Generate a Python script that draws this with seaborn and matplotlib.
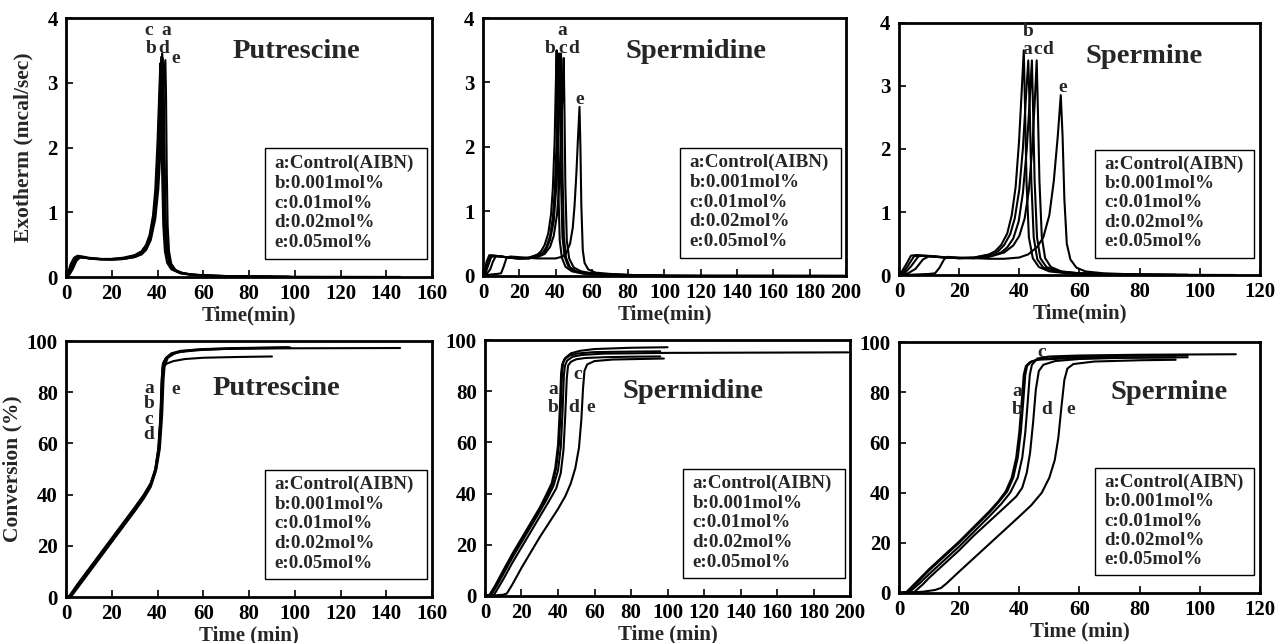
import matplotlib
matplotlib.use("Agg")
import matplotlib.pyplot as plt
import seaborn as sns
from matplotlib.patches import Rectangle

# ---------------- data ----------------
letters = ["a", "b", "c", "d", "e"]
legend_lines = ["a:Control(AIBN)", "b:0.001mol%", "c:0.01mol%", "d:0.02mol%", "e:0.05mol%"]
titles = ["Putrescine", "Spermidine", "Spermine"]
xmax_list = [160, 200, 120]
exo_yticks = [0, 1, 2, 3, 4]
conv_yticks = [0, 20, 40, 60, 80, 100]

# --- Putrescine exotherm ---
put_exo_a_t = [0, 1, 2.5, 4, 5.5, 7, 10, 15, 20, 25, 30, 33, 35, 37, 38.5, 39.5, 40.5, 41.3, 42.0, 42.4, 42.8, 43.3, 44, 45, 47, 50, 55, 65, 80, 98]
put_exo_a_y = [0, 0.05, 0.15, 0.26, 0.31, 0.31, 0.29, 0.28, 0.28, 0.29, 0.32, 0.37, 0.45, 0.62, 0.9, 1.25, 1.9, 2.8, 3.45, 3.0, 1.9, 0.9, 0.45, 0.25, 0.12, 0.07, 0.04, 0.02, 0.01, 0.005]
put_exo_b_t = [0, 1.5, 3, 4.5, 6, 8, 10, 15, 20, 25, 30, 33, 35, 36.5, 38, 39, 40, 40.7, 41.2, 41.6, 42.0, 42.5, 43.2, 44.2, 46, 50, 55, 65, 80, 97]
put_exo_b_y = [0, 0.05, 0.15, 0.27, 0.31, 0.3, 0.29, 0.28, 0.28, 0.3, 0.34, 0.4, 0.5, 0.65, 0.95, 1.35, 2.1, 2.8, 3.3, 2.7, 1.6, 0.8, 0.4, 0.22, 0.12, 0.06, 0.035, 0.02, 0.01, 0.005]
put_exo_c_t = [0, 1, 2, 3.5, 5, 7, 10, 15, 20, 25, 30, 33, 35, 37, 38.3, 39.3, 40.3, 41.0, 41.6, 42.0, 42.4, 43.0, 43.8, 45, 47, 50, 55, 65, 80, 98]
put_exo_c_y = [0, 0.08, 0.2, 0.3, 0.33, 0.32, 0.3, 0.28, 0.28, 0.29, 0.33, 0.39, 0.48, 0.66, 0.95, 1.35, 2.1, 2.9, 3.4, 2.9, 1.8, 0.8, 0.4, 0.22, 0.11, 0.06, 0.035, 0.02, 0.01, 0.005]
put_exo_d_t = [0, 1.5, 3, 4.5, 6, 8, 10, 15, 20, 25, 30, 33, 35, 37, 38.8, 39.8, 40.8, 41.6, 42.3, 42.7, 43.1, 43.6, 44.3, 45.5, 47.5, 50, 55, 65, 80, 90]
put_exo_d_y = [0, 0.04, 0.13, 0.25, 0.3, 0.3, 0.29, 0.27, 0.27, 0.28, 0.31, 0.36, 0.44, 0.6, 0.92, 1.3, 2.0, 2.8, 3.38, 2.9, 1.8, 0.85, 0.42, 0.23, 0.12, 0.07, 0.04, 0.02, 0.01, 0.005]
put_exo_e_t = [0, 1, 2.5, 4, 5.5, 7, 10, 15, 20, 25, 30, 33, 35, 37, 39, 40.3, 41.5, 42.5, 43.4, 43.7, 44.0, 44.4, 45.0, 46, 48, 52, 60, 75, 100, 146]
put_exo_e_y = [0, 0.06, 0.18, 0.28, 0.32, 0.31, 0.29, 0.28, 0.27, 0.28, 0.31, 0.35, 0.42, 0.57, 0.9, 1.35, 2.1, 2.9, 3.35, 2.8, 1.7, 0.8, 0.4, 0.2, 0.1, 0.05, 0.025, 0.012, 0.006, 0.003]

# --- Spermidine exotherm ---
spd_exo_a_t = [0, 1, 2.5, 4, 6, 10, 15, 20, 25, 30, 33, 35, 37, 38.5, 39.5, 40.5, 41.5, 42.0, 42.5, 43, 43.8, 45, 47, 50, 55, 65, 80, 100]
spd_exo_a_y = [0, 0.05, 0.2, 0.3, 0.31, 0.3, 0.28, 0.27, 0.28, 0.31, 0.36, 0.45, 0.62, 0.9, 1.3, 2.0, 3.0, 3.45, 2.7, 1.5, 0.6, 0.3, 0.15, 0.08, 0.04, 0.02, 0.01, 0.005]
spd_exo_b_t = [0, 1, 2, 3.5, 5, 10, 15, 20, 25, 30, 32, 34, 36, 37.5, 38.5, 39.5, 40.1, 40.6, 41.0, 41.5, 42.3, 43.5, 45.5, 49, 55, 65, 80, 96]
spd_exo_b_y = [0, 0.08, 0.22, 0.32, 0.32, 0.3, 0.28, 0.27, 0.28, 0.33, 0.38, 0.48, 0.66, 0.95, 1.35, 2.1, 2.9, 3.5, 2.6, 1.4, 0.55, 0.28, 0.14, 0.07, 0.035, 0.02, 0.01, 0.005]
spd_exo_c_t = [0, 1.5, 3, 4.5, 7, 10, 15, 20, 25, 30, 33, 35, 37, 39, 40.2, 41.3, 42.3, 43.0, 43.4, 43.9, 44.6, 45.8, 48, 52, 60, 80, 120, 199]
spd_exo_c_y = [0, 0.05, 0.17, 0.29, 0.31, 0.3, 0.28, 0.27, 0.27, 0.3, 0.34, 0.42, 0.56, 0.85, 1.3, 2.0, 2.9, 3.45, 2.7, 1.5, 0.6, 0.28, 0.13, 0.06, 0.03, 0.012, 0.006, 0.003]
spd_exo_d_t = [0, 2, 4, 5.5, 7, 10, 15, 20, 25, 30, 34, 37, 39, 40.8, 42, 43.1, 43.9, 44.5, 44.9, 45.4, 46.2, 47.5, 50, 54, 60, 70, 85, 96]
spd_exo_d_y = [0, 0.03, 0.1, 0.22, 0.3, 0.3, 0.28, 0.27, 0.27, 0.29, 0.34, 0.45, 0.62, 0.95, 1.4, 2.2, 2.9, 3.38, 2.6, 1.4, 0.55, 0.27, 0.13, 0.07, 0.04, 0.02, 0.01, 0.005]
spd_exo_e_t = [0, 4, 8, 10, 11.5, 13, 15, 20, 30, 40, 44, 46, 48, 49.5, 50.5, 51.5, 52.3, 53.2, 53.7, 54.2, 55, 56, 58, 62, 70, 85, 98]
spd_exo_e_y = [0, 0.02, 0.03, 0.04, 0.15, 0.28, 0.3, 0.29, 0.27, 0.27, 0.3, 0.36, 0.5, 0.75, 1.1, 1.6, 2.1, 2.62, 2.0, 1.1, 0.4, 0.2, 0.1, 0.05, 0.03, 0.01, 0.005]

# --- Spermine exotherm ---
spm_exo_a_t = [0, 1.5, 3, 5, 7, 10, 15, 20, 25, 30, 33, 35, 37, 38.5, 40, 41.2, 42.2, 43.0, 43.5, 44, 44.8, 46, 48, 52, 58, 70, 85, 96]
spm_exo_a_y = [0, 0.05, 0.15, 0.3, 0.31, 0.3, 0.28, 0.27, 0.28, 0.32, 0.38, 0.48, 0.65, 0.9, 1.35, 2.0, 2.8, 3.4, 2.6, 1.5, 0.6, 0.25, 0.12, 0.06, 0.03, 0.015, 0.008, 0.005]
spm_exo_b_t = [0, 1, 2.5, 4, 6, 10, 15, 20, 25, 30, 32, 34, 36, 37.5, 38.8, 39.9, 40.8, 41.5, 41.9, 42.4, 43.2, 44.5, 46.5, 50, 56, 65, 80, 92]
spm_exo_b_y = [0, 0.06, 0.18, 0.31, 0.32, 0.3, 0.28, 0.27, 0.28, 0.33, 0.38, 0.48, 0.66, 0.95, 1.4, 2.1, 2.9, 3.56, 2.7, 1.5, 0.6, 0.27, 0.13, 0.06, 0.03, 0.015, 0.008, 0.005]
spm_exo_c_t = [0, 2, 4, 6.5, 8.5, 12, 16, 20, 25, 30, 34, 36, 38, 39.8, 41.2, 42.5, 43.5, 44.2, 44.6, 45.1, 45.9, 47, 49, 53, 60, 75, 95, 112]
spm_exo_c_y = [0, 0.04, 0.14, 0.3, 0.31, 0.3, 0.28, 0.27, 0.27, 0.3, 0.36, 0.44, 0.58, 0.85, 1.3, 2.0, 2.8, 3.4, 2.6, 1.5, 0.6, 0.27, 0.13, 0.06, 0.03, 0.012, 0.006, 0.003]
spm_exo_d_t = [0, 3, 5.5, 8, 10, 13, 16, 20, 25, 30, 35, 38, 40, 41.8, 43.2, 44.3, 45.2, 45.8, 46.2, 46.7, 47.5, 48.6, 50.5, 54, 60, 70, 82, 96]
spm_exo_d_y = [0, 0.03, 0.1, 0.25, 0.3, 0.29, 0.28, 0.27, 0.27, 0.29, 0.36, 0.47, 0.62, 0.9, 1.35, 2.0, 2.8, 3.4, 2.6, 1.5, 0.6, 0.27, 0.13, 0.06, 0.03, 0.015, 0.008, 0.005]
spm_exo_e_t = [0, 5, 10, 12, 13.5, 15, 16, 20, 25, 30, 35, 40, 43, 46, 48, 50, 51.5, 52.8, 53.8, 54.4, 55, 55.8, 57, 59, 62, 68, 80, 92]
spm_exo_e_y = [0, 0.01, 0.02, 0.03, 0.12, 0.25, 0.29, 0.28, 0.27, 0.26, 0.26, 0.28, 0.33, 0.45, 0.6, 0.95, 1.5, 2.2, 2.85, 2.2, 1.2, 0.5, 0.25, 0.12, 0.06, 0.03, 0.01, 0.005]

# --- Putrescine conversion ---
put_conv_a_t = [0, 1.5, 5, 10, 15, 20, 25, 30, 34, 37, 39, 40.3, 41.2, 41.8, 42.3, 43.5, 46, 50, 60, 75, 98]
put_conv_a_y = [0, 0.5, 5, 11, 17, 23, 29, 35, 40, 44.5, 50, 58, 70, 85, 91, 93, 94.8, 95.8, 96.6, 97.1, 97.4]
put_conv_b_t = [0, 2, 5, 10, 15, 20, 25, 30, 34, 37, 39, 40.5, 41.4, 42, 42.5, 43.7, 46, 50, 60, 75, 97]
put_conv_b_y = [0, 0.5, 4.5, 10.5, 16.5, 22.5, 28.5, 34.5, 39.5, 44, 49.5, 58, 71, 86, 91.5, 93.5, 95.2, 96.2, 96.9, 97.3, 97.6]
put_conv_c_t = [0, 1.8, 5, 10, 15, 20, 25, 30, 34, 37, 39, 40.4, 41.3, 41.9, 42.4, 43.6, 46, 50, 60, 75, 98]
put_conv_c_y = [0, 0.5, 4.8, 10.8, 16.8, 22.8, 28.8, 34.8, 39.8, 44.3, 49.8, 58, 70.5, 85.5, 91.2, 93.2, 95.0, 96.0, 96.8, 97.2, 97.5]
put_conv_d_t = [0, 2.5, 5, 10, 15, 20, 25, 30, 34, 37, 39, 40.6, 41.5, 42.1, 42.6, 44, 47, 52, 60, 75, 90]
put_conv_d_y = [0, 0.5, 3.5, 9.5, 15.5, 21.5, 27.5, 33.5, 38.5, 43, 48.5, 57, 70, 84, 90, 91.2, 92.2, 93, 93.5, 93.8, 94]
put_conv_e_t = [0, 2, 5, 10, 15, 20, 25, 30, 34, 37, 39.5, 41, 42, 42.6, 43.1, 44.5, 48, 55, 70, 100, 146]
put_conv_e_y = [0, 0.5, 4.2, 10.2, 16.2, 22.2, 28.2, 34.2, 39.2, 43.5, 50, 58, 71, 85, 90.5, 93.5, 95.5, 96.5, 97, 97.2, 97.3]

# --- Spermidine conversion ---
spd_conv_a_t = [0, 3, 6, 10, 15, 20, 25, 30, 34, 37, 39, 40.5, 41.5, 42.2, 42.8, 44, 47, 52, 60, 80, 100]
spd_conv_a_y = [0, 0.5, 4, 9.5, 16, 22, 28, 34, 39, 44, 50, 59, 73, 87, 91, 93, 94.8, 95.8, 96.5, 97, 97.2]
spd_conv_b_t = [0, 2.5, 5.5, 10, 15, 20, 25, 30, 33.5, 36.5, 38.5, 40, 41, 41.7, 42.3, 43.5, 46.5, 51, 60, 80, 96]
spd_conv_b_y = [0, 0.5, 4, 10, 16.5, 22.5, 28.5, 34.5, 39.5, 44, 50, 59, 73, 87, 90.5, 92.5, 94, 94.8, 95.3, 95.5, 95.6]
spd_conv_c_t = [0, 3.5, 6.5, 10, 15, 20, 25, 30, 34, 37.5, 40, 41.5, 42.5, 43.2, 43.8, 45, 48, 53, 65, 100, 199]
spd_conv_c_y = [0, 0.5, 4, 8.5, 15, 21, 27, 33, 38, 43, 49, 58, 72, 86, 90, 92, 93.5, 94.2, 94.7, 95, 95.2]
spd_conv_d_t = [0, 5, 7.5, 10, 15, 20, 25, 30, 35, 39, 41.5, 43, 44, 44.8, 45.5, 47, 50, 55, 65, 80, 96]
spd_conv_d_y = [0, 0.5, 3.5, 6.5, 13, 19, 25, 31, 37, 42, 48, 57, 71, 85, 90, 91.5, 92.5, 93, 93.3, 93.5, 93.6]
spd_conv_e_t = [0, 5, 10, 12, 15, 20, 25, 30, 35, 40, 44, 47, 49.5, 51.5, 52.8, 53.7, 54.5, 56, 60, 70, 98]
spd_conv_e_y = [0, 0.2, 0.5, 1, 4.5, 11, 17, 23, 28.5, 34, 39, 44, 50, 58, 69, 81, 88, 90.5, 91.8, 92.4, 92.8]

# --- Spermine conversion ---
spm_conv_a_t = [0, 3, 6, 10, 15, 20, 25, 30, 33, 36, 38, 39.5, 40.5, 41.3, 42, 42.6, 44, 47, 55, 70, 96]
spm_conv_a_y = [0, 0.4, 4, 9, 14.5, 20, 26, 32, 36, 40.5, 46, 54, 64, 76, 87, 90.5, 92.3, 93.3, 94, 94.5, 94.8]
spm_conv_b_t = [0, 2.5, 5.5, 10, 15, 20, 25, 30, 33, 35.5, 37.5, 39, 40, 40.8, 41.5, 42.2, 43.5, 46, 55, 70, 92]
spm_conv_b_y = [0, 0.4, 4, 9.5, 15, 20.5, 26.5, 32.5, 36.5, 40.5, 46, 54, 64, 76, 87, 90.5, 92, 93, 93.5, 93.8, 94]
spm_conv_c_t = [0, 3.5, 7, 10, 15, 20, 25, 30, 34, 37, 39.5, 41, 42, 42.8, 43.5, 44.2, 46, 50, 60, 80, 112]
spm_conv_c_y = [0, 0.4, 4, 7.5, 13, 18.5, 24.5, 30.5, 35.5, 40, 46, 54, 64, 76, 87, 91, 93.5, 94.3, 94.7, 95, 95.2]
spm_conv_d_t = [0, 5, 8, 10, 15, 20, 25, 30, 35, 39, 41, 42.5, 43.6, 44.6, 45.5, 46.5, 48, 52, 60, 75, 96]
spm_conv_d_y = [0, 0.3, 3.5, 6, 11.5, 17, 23, 28.5, 34, 38.5, 42, 48, 56, 68, 81, 88.5, 91, 92.5, 93.3, 93.8, 94]
spm_conv_e_t = [0, 8, 12, 14, 16, 20, 25, 30, 35, 40, 44, 47.5, 50, 51.8, 53, 54, 55, 56, 58, 65, 80, 92]
spm_conv_e_y = [0, 0.5, 1.2, 2, 4, 8.5, 14, 19.5, 25, 30.5, 35, 40, 46, 53, 62, 74, 85, 89.5, 91.3, 92.3, 92.8, 93]

exo_t = [
    [put_exo_a_t, put_exo_b_t, put_exo_c_t, put_exo_d_t, put_exo_e_t],
    [spd_exo_a_t, spd_exo_b_t, spd_exo_c_t, spd_exo_d_t, spd_exo_e_t],
    [spm_exo_a_t, spm_exo_b_t, spm_exo_c_t, spm_exo_d_t, spm_exo_e_t],
]
exo_y = [
    [put_exo_a_y, put_exo_b_y, put_exo_c_y, put_exo_d_y, put_exo_e_y],
    [spd_exo_a_y, spd_exo_b_y, spd_exo_c_y, spd_exo_d_y, spd_exo_e_y],
    [spm_exo_a_y, spm_exo_b_y, spm_exo_c_y, spm_exo_d_y, spm_exo_e_y],
]
conv_t = [
    [put_conv_a_t, put_conv_b_t, put_conv_c_t, put_conv_d_t, put_conv_e_t],
    [spd_conv_a_t, spd_conv_b_t, spd_conv_c_t, spd_conv_d_t, spd_conv_e_t],
    [spm_conv_a_t, spm_conv_b_t, spm_conv_c_t, spm_conv_d_t, spm_conv_e_t],
]
conv_y = [
    [put_conv_a_y, put_conv_b_y, put_conv_c_y, put_conv_d_y, put_conv_e_y],
    [spd_conv_a_y, spd_conv_b_y, spd_conv_c_y, spd_conv_d_y, spd_conv_e_y],
    [spm_conv_a_y, spm_conv_b_y, spm_conv_c_y, spm_conv_d_y, spm_conv_e_y],
]

# curve-letter annotations (data coords)
exo_label_pos = [
    {"c": (36.3, 3.80), "a": (43.6, 3.80), "b": (37.0, 3.53), "d": (42.5, 3.53), "e": (48.0, 3.38)},
    {"a": (43.7, 3.80), "b": (37.2, 3.53), "c": (43.7, 3.53), "d": (50.0, 3.53), "e": (53.2, 2.73)},
    {"b": (42.9, 3.85), "a": (42.5, 3.58), "c": (46.2, 3.58), "d": (49.5, 3.58), "e": (54.5, 2.97)},
]
conv_label_pos = [
    {"a": (36.2, 81.5), "b": (36.2, 75.5), "c": (36.2, 69.5), "d": (36.2, 63.5), "e": (48.0, 81)},
    {"a": (37.3, 80.5), "b": (37.3, 73.5), "c": (51.0, 86.7), "d": (48.8, 73.5), "e": (58.0, 73.5)},
    {"a": (39.2, 80.5), "b": (39.2, 73.3), "c": (47.5, 96), "d": (49.0, 73.3), "e": (57.0, 73.3)},
]

# ---------------- style ----------------
sns.set_theme(style="ticks")
plt.rcParams["font.family"] = ["Liberation Serif", "DejaVu Serif"]
plt.rcParams["font.weight"] = "bold"
plt.rcParams["axes.labelweight"] = "bold"

fig = plt.figure(figsize=(12.8, 6.43), dpi=100)

top_rects = [
    [0.0516, 0.569, 0.286, 0.403],
    [0.3773, 0.571, 0.2836, 0.401],
    [0.7023, 0.572, 0.282, 0.393],
]
bot_rects = [
    [0.0516, 0.0715, 0.286, 0.398],
    [0.3789, 0.0731, 0.2852, 0.398],
    [0.7023, 0.0778, 0.282, 0.390],
]
exo_title_pos = [(0.63, 0.87), (0.587, 0.87), (0.68, 0.866)]
conv_title_pos = [(0.576, 0.816), (0.57, 0.80), (0.748, 0.80)]

TICK_FS = 15
LAB_FS = 15


def style_axes(ax, xmax, ymax, yticks):
    ax.set_xlim(0, xmax)
    ax.set_ylim(0, ymax)
    ax.set_xticks(list(range(0, xmax + 1, 20)))
    ax.set_yticks(yticks)
    ax.tick_params(direction="in", length=5, width=1.2, labelsize=TICK_FS,
                   top=False, right=False, colors="black")
    ax.tick_params(axis="x", pad=5)
    ax.tick_params(axis="y", pad=6)
    for lab in ax.get_xticklabels() + ax.get_yticklabels():
        lab.set_fontweight("bold")
    for s in ax.spines.values():
        s.set_visible(True)
        s.set_linewidth(2.0)
        s.set_color("black")
    ax.set_facecolor("white")


def legend_box(ax, top=0.497, bottom=0.07, left=0.543, right=0.985):
    ax.add_patch(Rectangle((left, bottom), right - left, top - bottom,
                           transform=ax.transAxes, fill=False, lw=1.0,
                           ec="black", zorder=5))
    y0 = top - 0.057
    for i, line in enumerate(legend_lines):
        ax.text(left + 0.026, y0 - i * 0.077, line, transform=ax.transAxes,
                fontsize=13.7, fontweight="bold", va="center", ha="left", zorder=6)


for p in range(3):
    # exotherm
    ax = fig.add_axes(top_rects[p])
    for k in range(5):
        sns.lineplot(x=exo_t[p][k], y=exo_y[p][k], ax=ax, color="black",
                     lw=1.5, sort=False, estimator=None)
    style_axes(ax, xmax_list[p], 4, exo_yticks)
    ax.set_xlabel("Time(min)", fontsize=LAB_FS, fontweight="bold", labelpad=1)
    if p == 0:
        ax.set_ylabel("Exotherm (mcal/sec)", fontsize=15.5, fontweight="bold", labelpad=10)
    else:
        ax.set_ylabel("")
    ax.text(*exo_title_pos[p], titles[p], transform=ax.transAxes, fontsize=20.5,
            fontweight="bold", ha="center", va="center")
    for let, (tx, ty) in exo_label_pos[p].items():
        ax.text(tx, ty, let, fontsize=14, fontweight="bold", ha="center", va="center")
    legend_box(ax)

    # conversion
    ax = fig.add_axes(bot_rects[p])
    for k in range(5):
        sns.lineplot(x=conv_t[p][k], y=conv_y[p][k], ax=ax, color="black",
                     lw=1.5, sort=False, estimator=None)
    style_axes(ax, xmax_list[p], 100, conv_yticks)
    ax.set_xlabel("Time (min)", fontsize=LAB_FS, fontweight="bold", labelpad=1)
    if p == 0:
        ax.set_ylabel("Conversion (%)", fontsize=15.5, fontweight="bold", labelpad=3)
    else:
        ax.set_ylabel("")
    ax.text(*conv_title_pos[p], titles[p], transform=ax.transAxes, fontsize=20.5,
            fontweight="bold", ha="center", va="center")
    for let, (tx, ty) in conv_label_pos[p].items():
        ax.text(tx, ty, let, fontsize=14, fontweight="bold", ha="center", va="center")
    legend_box(ax)

fig.savefig("out.png", dpi=100, facecolor="white")
